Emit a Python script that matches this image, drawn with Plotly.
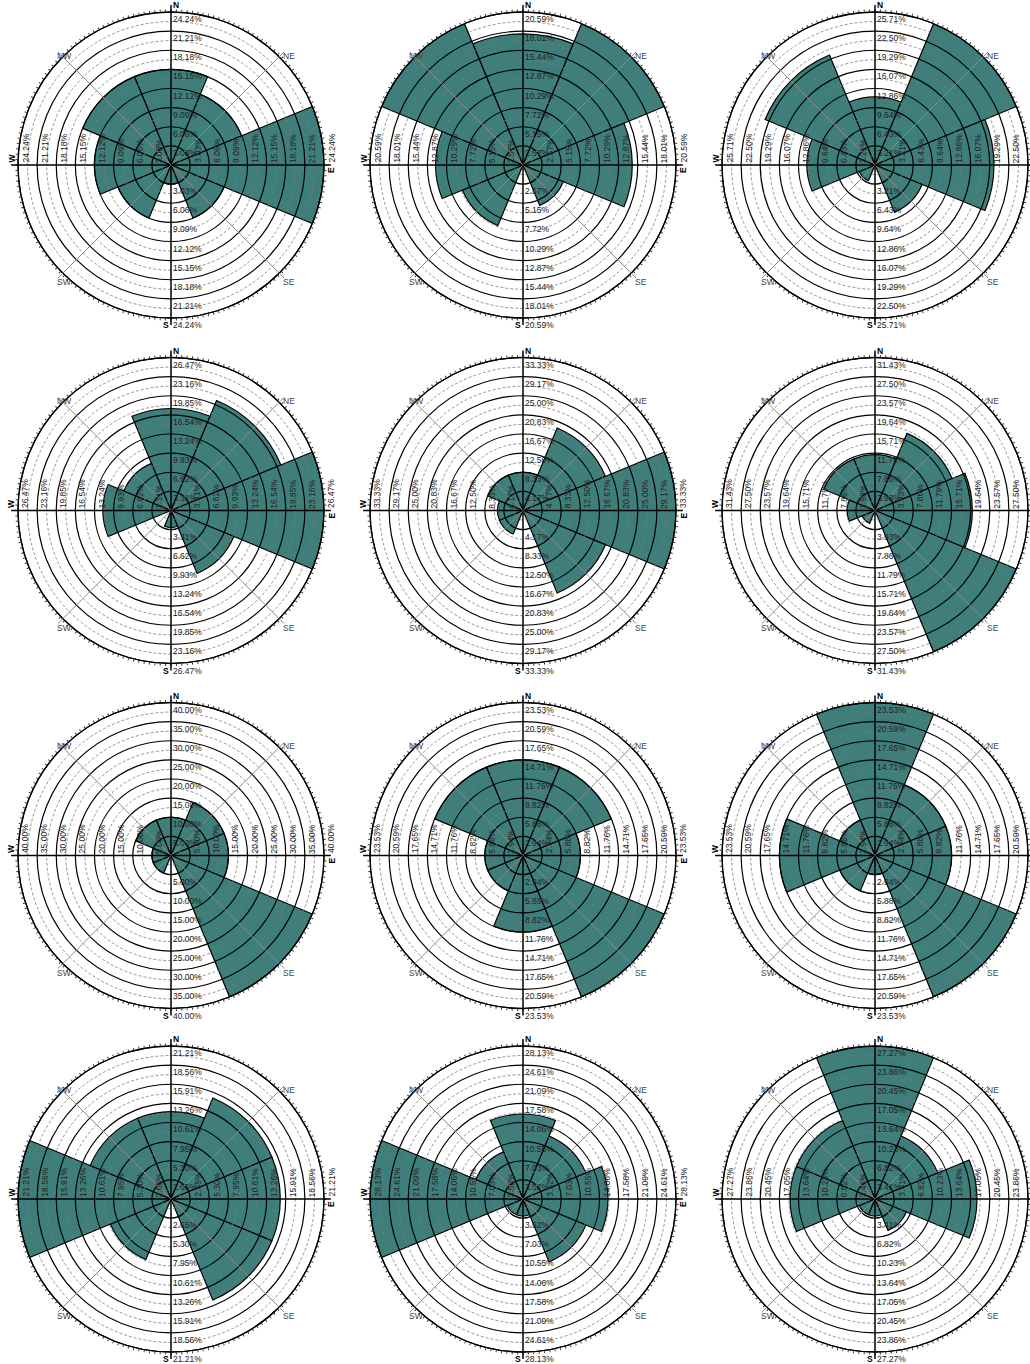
from decimal import Decimal, ROUND_HALF_UP

import numpy as np
import plotly.graph_objects as go

# Sector order used by every rose: clockwise from north
DIRECTIONS = ["N", "NE", "E", "SE", "S", "SW", "W", "NW"]
BEARINGS = [0, 45, 90, 135, 180, 225, 270, 315]

# Observation counts per direction sector (N, NE, E, SE, S, SW, W, NW) for each rose
counts_01 = [5, 4, 8, 3, 1, 3, 4, 5]
counts_02 = [6, 7, 5, 2, 0, 3, 4, 7]
counts_03 = [4, 9, 7, 3, 0, 1, 4, 7]
counts_04 = [6, 7, 9, 4, 1, 0, 4, 3]
counts_05 = [3, 7, 12, 7, 0, 2, 2, 3]
counts_06 = [4, 6, 7, 11, 0, 1, 2, 4]
counts_07 = [2, 3, 3, 8, 0, 1, 1, 2]
counts_08 = [5, 5, 3, 8, 4, 2, 2, 5]
counts_09 = [8, 4, 4, 8, 1, 2, 5, 2]
counts_10 = [4, 5, 5, 5, 0, 3, 7, 4]
counts_11 = [5, 4, 5, 4, 1, 1, 9, 3]
counts_12 = [9, 4, 6, 2, 1, 1, 5, 5]

ROSES = [counts_01, counts_02, counts_03, counts_04, counts_05, counts_06,
         counts_07, counts_08, counts_09, counts_10, counts_11, counts_12]

# Page geometry (pixels)
FIG_W, FIG_H = 1030, 1364
COL_CX = [171, 523, 875]
ROW_CY = [165, 510.5, 855.5, 1199]
RADIUS = 153
OVERLAY_PAD = 1.12
N_RINGS = 8

TEAL = "#3e7f7c"
FONT = "Liberation Sans, Arial, sans-serif"


def pct_label(v):
    """Percentage text rounded half-up to two decimals."""
    return str(Decimal(repr(v)).quantize(Decimal("0.01"), rounding=ROUND_HALF_UP)) + "%"


fig = go.Figure()
shapes = []
annotations = []
layout_extra = {}

for i, counts in enumerate(ROSES):
    row, col = divmod(i, 3)
    cx, cy = COL_CX[col], ROW_CY[row]
    total = sum(counts)
    pct = [100.0 * c / total for c in counts]
    vmax = max(pct)

    sfx = "" if i == 0 else str(i + 1)
    pkey = "polar" + sfx
    xref, yref = "x" + sfx, "y" + sfx

    # frequency bars
    fig.add_trace(go.Barpolar(
        r=pct, theta=BEARINGS, width=[45] * len(BEARINGS), subplot=pkey,
        marker=dict(color=TEAL, line=dict(color="black", width=1.2)),
        showlegend=False, hoverinfo="skip"))

    layout_extra[pkey] = dict(
        domain=dict(x=[(cx - RADIUS) / FIG_W, (cx + RADIUS) / FIG_W],
                    y=[1 - (cy + RADIUS) / FIG_H, 1 - (cy - RADIUS) / FIG_H]),
        bgcolor="white",
        radialaxis=dict(range=[0, vmax], visible=False),
        angularaxis=dict(rotation=90, direction="clockwise",
                         tickmode="array", tickvals=list(range(0, 360, 2)),
                         showticklabels=False, ticks="outside", ticklen=2,
                         tickwidth=0.6, tickcolor="#333", showgrid=False,
                         linecolor="black", linewidth=1.3))

    # invisible cartesian overlay sharing the rose's centre and scale,
    # used for rings, spokes and labels drawn on top of the bars
    half = OVERLAY_PAD * RADIUS
    left, right = max(0, cx - half), min(FIG_W, cx + half)
    top, bottom = max(0, cy - half), min(FIG_H, cy + half)
    upp = vmax / RADIUS
    layout_extra["xaxis" + sfx] = dict(
        domain=[left / FIG_W, right / FIG_W],
        range=[(left - cx) * upp, (right - cx) * upp],
        visible=False, fixedrange=True, anchor=yref)
    layout_extra["yaxis" + sfx] = dict(
        domain=[1 - bottom / FIG_H, 1 - top / FIG_H],
        range=[(cy - bottom) * upp, (cy - top) * upp],
        visible=False, fixedrange=True, anchor=xref)
    fig.add_trace(go.Scatter(x=[None], y=[None], xaxis=xref, yaxis=yref,
                             showlegend=False, hoverinfo="skip"))

    # labels whose anchor falls on the page's right edge are left off
    def fits(x_val):
        return cx + x_val / upp < FIG_W - 4

    step = vmax / N_RINGS
    for k in range(1, N_RINGS + 1):
        rh = step * (k - 0.5)
        shapes.append(dict(type="circle", xref=xref, yref=yref, layer="above",
                           x0=-rh, x1=rh, y0=-rh, y1=rh,
                           line=dict(color="#7a7a7a", width=0.8, dash="3px,2px")))
    for k in range(1, N_RINGS + 1):
        r = step * k
        shapes.append(dict(type="circle", xref=xref, yref=yref, layer="above",
                           x0=-r, x1=r, y0=-r, y1=r,
                           line=dict(color="black", width=1.2)))

    # direction spokes
    reach = vmax * 1.045
    for name, b in zip(DIRECTIONS, BEARINGS):
        ex = reach * np.sin(np.radians(b))
        ey = reach * np.cos(np.radians(b))
        cardinal = len(name) == 1
        shapes.append(dict(type="line", xref=xref, yref=yref, layer="above",
                           x0=0, y0=0, x1=ex, y1=ey,
                           line=dict(color="black" if cardinal else "#8a8a8a",
                                     width=1.5 if cardinal else 1.0)))
        if not cardinal:
            annotations.append(dict(
                x=ex, y=ey, xref=xref, yref=yref, text=name, showarrow=False,
                xanchor="left", yanchor="middle", xshift=-3, yshift=-4,
                font=dict(family=FONT, size=8.5, color="#444")))

    # cardinal letters
    bold = dict(family=FONT, size=8.5, color="black")
    annotations += [
        dict(x=0, y=vmax, xref=xref, yref=yref, text="<b>N</b>", showarrow=False,
             xanchor="left", yanchor="bottom", xshift=0, font=bold),
        dict(x=0, y=-vmax, xref=xref, yref=yref, text="<b>S</b>", showarrow=False,
             xanchor="right", yanchor="top", font=bold),
        dict(x=-vmax, y=0, xref=xref, yref=yref, text="<b>W</b>", showarrow=False,
             textangle=-90, xanchor="right", yanchor="bottom", font=bold),
    ]
    if fits(vmax):
        annotations.append(
            dict(x=vmax, y=0, xref=xref, yref=yref, text="<b>E</b>", showarrow=False,
                 textangle=-90, xanchor="left", yanchor="top", font=bold))

    # percentage labels along the four cardinal spokes
    lab_font = dict(family=FONT, size=8.5, color="#222")
    for k in range(1, N_RINGS + 1):
        r = step * k
        txt = pct_label(r)
        annotations += [
            dict(x=0, y=r, xref=xref, yref=yref, text=txt, showarrow=False,
                 xanchor="left", yanchor="top", font=lab_font),
            dict(x=0, y=-r, xref=xref, yref=yref, text=txt, showarrow=False,
                 xanchor="left", yanchor="top", font=lab_font),
            dict(x=-r, y=0, xref=xref, yref=yref, text=txt, showarrow=False,
                 textangle=-90, xanchor="left", yanchor="bottom", font=lab_font),
        ]
        if fits(r):
            annotations.append(
                dict(x=r, y=0, xref=xref, yref=yref, text=txt, showarrow=False,
                     textangle=-90, xanchor="left", yanchor="bottom", font=lab_font))

fig.update_layout(
    width=FIG_W, height=FIG_H, autosize=False,
    margin=dict(l=0, r=0, t=0, b=0, pad=0),
    paper_bgcolor="white", plot_bgcolor="rgba(0,0,0,0)",
    showlegend=False, hovermode=False,
    shapes=shapes, annotations=annotations,
    font=dict(family=FONT),
    **layout_extra)

fig.write_html("out.html", config={"displayModeBar": False})
